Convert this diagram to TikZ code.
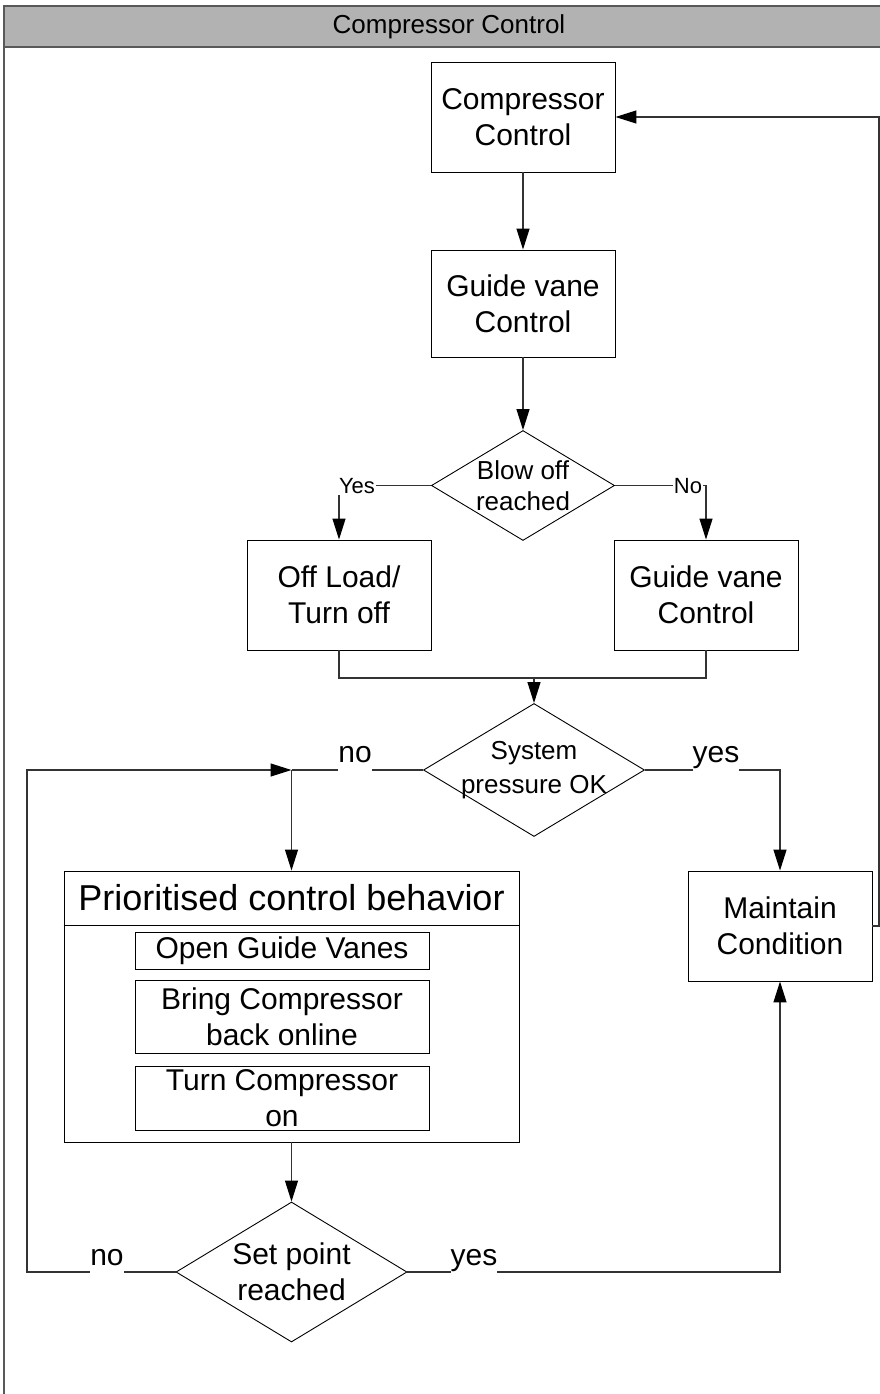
\documentclass[tikz,border=0pt]{standalone}
\usepackage{fontspec}
\setmainfont{Liberation Sans}
\usetikzlibrary{shapes.geometric,arrows.meta}
\begin{document}
\begin{tikzpicture}[x=1pt,y=-1pt,
  box/.style={draw=black, line width=0.9pt, inner sep=0pt, align=center,
    font=\fontsize{30}{36}\selectfont},
  subbox/.style={box, minimum width=294pt},
  dia/.style={draw=black, diamond, line width=0.9pt, inner sep=0pt},
  dtext/.style={align=center, inner sep=0pt},
  conn/.style={draw=black!80, line width=1.2pt},
  arr/.style={conn, -{Triangle[length=21pt,width=13pt,color=black]}},
  small/.style={fill=white, inner sep=1pt, font=\fontsize{22}{26}\selectfont},
  big/.style={fill=white, inner sep=0pt, text depth=12pt, anchor=base,
    font=\fontsize{30}{36}\selectfont}
]
\useasboundingbox (0,0) rectangle (880,1394);

% swimlane frame and header
\fill[black!30] (4,6) rectangle (896,47);
\draw[black!65, line width=1.6pt] (4,1400) -- (4,6) -- (896,6);
\draw[black!65, line width=1.6pt] (4,47) -- (896,47);
\node[font=\fontsize{26}{30}\selectfont] (title) at (449,27) {Compressor Control};

% process boxes
\node[box, minimum width=184pt, minimum height=110pt] (cc) at (523,117) {Compressor\\Control};
\node[box, minimum width=184pt, minimum height=107pt] (gv1) at (523,303.5) {Guide vane\\Control};
\node[box, minimum width=184pt, minimum height=110pt] (off) at (339,595) {Off Load/\\Turn off};
\node[box, minimum width=184pt, minimum height=110pt] (gv2) at (706,595) {Guide vane\\Control};
\node[box, minimum width=184pt, minimum height=110pt] (mc) at (780,926) {Maintain\\Condition};

% decisions
\node[dia, minimum width=183pt, minimum height=110pt] (bo) at (523,485.5) {};
\node[dtext, font=\fontsize{26}{31}\selectfont] (bot) at (bo.center) {Blow off\\reached};
\node[dia, minimum width=221pt, minimum height=133pt] (sp) at (534,770) {};
\node[dtext, font=\fontsize{26}{34}\selectfont] (spt) at (534,770) {System\\pressure OK};
\node[dia, minimum width=231pt, minimum height=140pt] (setp) at (291.5,1272) {};
\node[dtext, font=\fontsize{30}{36}\selectfont] (setpt) at (setp.center) {Set point\\reached};

% prioritised behaviour container
\node[draw=black, line width=0.9pt, minimum width=455pt, minimum height=271pt, inner sep=0pt] (pcb) at (291.5,1006.5) {};
\node[font=\fontsize{36}{42}\selectfont, inner sep=0pt] (pcbt) at (291.5,898) {Prioritised control behavior};
\draw[black, line width=0.9pt] (pcb.west |- 0,925) -- (pcb.east |- 0,925);
\node[subbox, minimum height=37pt] (b1) at (282,950.5) {Open Guide Vanes};
\node[subbox, minimum height=73pt] (b2) at (282,1016.5) {Bring Compressor\\back online};
\node[subbox, minimum height=64pt] (b3) at (282,1098) {Turn Compressor\\on};

% junction points
\coordinate (mj) at (534,678);
\coordinate (j1) at (pcb.north |- sp.west);
\coordinate (lx) at (27,1272);
\coordinate (rx) at (879,926);
\coordinate (ry) at (879,117);

% main flow
\draw[arr] (cc.south) -- (gv1.north);
\draw[arr] (gv1.south) -- (bo.north);
\draw[arr] (bo.west) -| (off.north);
\draw[arr] (bo.east) -| (gv2.north);
\node[small] (lyes) at (357,486) {Yes};
\node[small] (lno) at (688,486) {No};
\draw[conn] (off.south) |- (mj) -| (gv2.south);
\draw[arr] (mj) -- (sp.north);

% system pressure decision
\draw[conn] (sp.west) -- (j1);
\draw[arr] (j1) -- (pcb.north);
\draw[arr] (sp.east) -| (mc.north);
\node[big] (lno2) at (355,762) {no};
\node[big] (lyes2) at (716,762) {yes};

% set point decision
\draw[arr] (pcb.south) -- (setp.north);
\draw[arr] (setp.west) -- (lx) |- (j1);
\draw[arr] (setp.east) -| (mc.south);
\node[big] (lno3) at (107,1265) {no};
\node[big] (lyes3) at (474,1265) {yes};

% return to compressor control
\draw[arr] (mc.east) -- (rx) -- (ry) -- (cc.east |- ry);
\end{tikzpicture}
\end{document}
